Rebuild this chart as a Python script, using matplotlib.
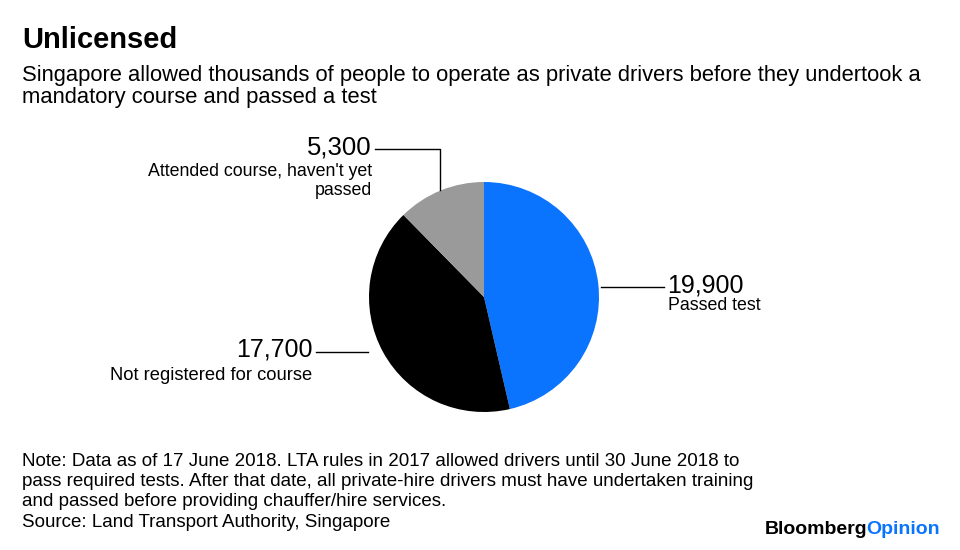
import matplotlib
matplotlib.use("Agg")
import matplotlib.pyplot as plt

plt.rcParams["font.family"] = ["Liberation Sans", "DejaVu Sans"]

labels = ["Passed test", "Not registered for course", "Attended course, haven't yet\npassed"]
values = [19900, 17700, 5300]
colors = ["#0a74ff", "#000000", "#9a9a9a"]

W, H = 960, 550
fig = plt.figure(figsize=(9.6, 5.5), dpi=100)
ax = fig.add_axes([0, 0, 1, 1])


def Y(y):
    return H - y


# pie
ax.pie(values, colors=colors, startangle=90, counterclock=False,
       center=(484, Y(297)), radius=115, frame=True,
       wedgeprops=dict(linewidth=0))
ax.set_xlim(0, W)
ax.set_ylim(0, H)
ax.set_aspect("equal")
ax.axis("off")

# title block
ax.text(22, Y(40), "Unlicensed", fontsize=21, weight="bold", color="#000000", va="center")
ax.text(22, Y(75), "Singapore allowed thousands of people to operate as private drivers before they undertook a",
        fontsize=15.8, color="#000000", va="center")
ax.text(22, Y(98), "mandatory course and passed a test", fontsize=15.8, color="#000000", va="center")

# leader lines
line_kw = dict(color="#000000", lw=1.0)
ax.plot([375, 440, 440], [Y(149), Y(149), Y(190)], **line_kw)
ax.plot([601, 664], [Y(287), Y(287)], **line_kw)
ax.plot([316, 368], [Y(352), Y(352)], **line_kw)

# labels
ax.text(372, Y(148), f"{values[2]:,}", fontsize=18.5, ha="right", va="center")
ax.text(372, Y(181), labels[2], fontsize=12.8, ha="right", va="center", linespacing=1.1)
ax.text(667, Y(285), f"{values[0]:,}", fontsize=18, ha="left", va="center")
ax.text(668, Y(305), labels[0], fontsize=12.8, ha="left", va="center")
ax.text(313, Y(350), f"{values[1]:,}", fontsize=18, ha="right", va="center")
ax.text(312, Y(375), labels[1], fontsize=13.2, ha="right", va="center")

# notes
note = ("Note: Data as of 17 June 2018. LTA rules in 2017 allowed drivers until 30 June 2018 to\n"
        "pass required tests. After that date, all private-hire drivers must have undertaken training\n"
        "and passed before providing chauffer/hire services.\n"
        "Source: Land Transport Authority, Singapore")
ax.text(22, Y(453), note, fontsize=13.5, va="top", linespacing=1.25)

# logo
t2 = ax.text(940, Y(529), "Opinion", fontsize=14, weight="bold", color="#0a74ff",
             ha="right", va="center")
fig.canvas.draw()
bb = t2.get_window_extent(fig.canvas.get_renderer())
x_left = ax.transData.inverted().transform((bb.x0, bb.y0))[0]
ax.text(x_left + 1, Y(529), "Bloomberg", fontsize=14, weight="bold", color="#000000",
        ha="right", va="center")

fig.savefig("out.png", dpi=100, facecolor="white")
